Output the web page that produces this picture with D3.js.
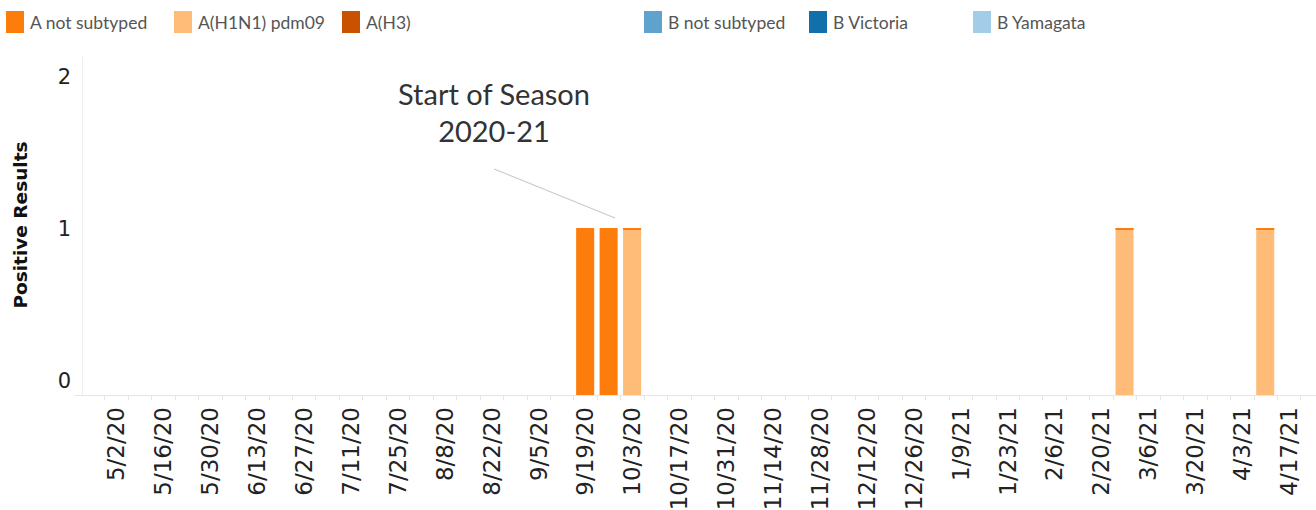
<!DOCTYPE html>
<html>
<head>
<meta charset="utf-8">
<script src="https://cdn.jsdelivr.net/npm/d3@7"></script>
<style>
  body { margin: 0; background: #fff; }
  svg { display: block; }
</style>
</head>
<body>
<svg width="1316" height="510"></svg>
<script>
// weeks (week ending), 4/25/20 .. 4/24/21
var weeks = ["4/25/20","5/2/20","5/9/20","5/16/20","5/23/20","5/30/20","6/6/20","6/13/20","6/20/20","6/27/20",
  "7/4/20","7/11/20","7/18/20","7/25/20","8/1/20","8/8/20","8/15/20","8/22/20","8/29/20","9/5/20",
  "9/12/20","9/19/20","9/26/20","10/3/20","10/10/20","10/17/20","10/24/20","10/31/20","11/7/20","11/14/20",
  "11/21/20","11/28/20","12/5/20","12/12/20","12/19/20","12/26/20","1/2/21","1/9/21","1/16/21","1/23/21",
  "1/30/21","2/6/21","2/13/21","2/20/21","2/27/21","3/6/21","3/13/21","3/20/21","3/27/21","4/3/21",
  "4/10/21","4/17/21","4/24/21"];

// labelled ticks on the x axis
var tickLabels = ["5/2/20","5/16/20","5/30/20","6/13/20","6/27/20","7/11/20","7/25/20","8/8/20","8/22/20","9/5/20",
  "9/19/20","10/3/20","10/17/20","10/31/20","11/14/20","11/28/20","12/12/20","12/26/20","1/9/21","1/23/21",
  "2/6/21","2/20/21","3/6/21","3/20/21","4/3/21","4/17/21"];

var seriesNames = ["A not subtyped", "A(H1N1) pdm09", "A(H3)", "B not subtyped", "B Victoria", "B Yamagata"];
var seriesColors = ["#fc7d0b", "#ffbc79", "#c85200", "#5fa2ce", "#1170aa", "#a3cce9"];

// positive results per week, one array per series (same order as weeks)
var aNotSubtyped = [0,0,0,0,0,0,0,0,0,0, 0,0,0,0,0,0,0,0,0,0, 0,1,1,0,0,0,0,0,0,0, 0,0,0,0,0,0,0,0,0,0, 0,0,0,0,0,0,0,0,0,0, 0,0,0];
var aH1N1 =        [0,0,0,0,0,0,0,0,0,0, 0,0,0,0,0,0,0,0,0,0, 0,0,0,1,0,0,0,0,0,0, 0,0,0,0,0,0,0,0,0,0, 0,0,0,0,1,0,0,0,0,0, 1,0,0];
var aH3 =          [0,0,0,0,0,0,0,0,0,0, 0,0,0,0,0,0,0,0,0,0, 0,0,0,0,0,0,0,0,0,0, 0,0,0,0,0,0,0,0,0,0, 0,0,0,0,0,0,0,0,0,0, 0,0,0];
var bNotSubtyped = [0,0,0,0,0,0,0,0,0,0, 0,0,0,0,0,0,0,0,0,0, 0,0,0,0,0,0,0,0,0,0, 0,0,0,0,0,0,0,0,0,0, 0,0,0,0,0,0,0,0,0,0, 0,0,0];
var bVictoria =    [0,0,0,0,0,0,0,0,0,0, 0,0,0,0,0,0,0,0,0,0, 0,0,0,0,0,0,0,0,0,0, 0,0,0,0,0,0,0,0,0,0, 0,0,0,0,0,0,0,0,0,0, 0,0,0];
var bYamagata =    [0,0,0,0,0,0,0,0,0,0, 0,0,0,0,0,0,0,0,0,0, 0,0,0,0,0,0,0,0,0,0, 0,0,0,0,0,0,0,0,0,0, 0,0,0,0,0,0,0,0,0,0, 0,0,0];

var yTicks = [0, 1, 2];
var seasonStart = "10/3/20";

var allSeries = [aNotSubtyped, aH1N1, aH3, bNotSubtyped, bVictoria, bYamagata];
var table = weeks.map(function (w, i) {
  var row = { week: w };
  seriesNames.forEach(function (n, k) { row[n] = allSeries[k][i]; });
  return row;
});

var svg = d3.select("svg");
var plotLeft = 81, plotBottom = 395, plotTop = 61;
var band = 23.45;

var x = d3.scaleBand()
  .domain(weeks)
  .range([plotLeft, plotLeft + weeks.length * band])
  .paddingInner(0.23)
  .paddingOuter(0.115);

var y = d3.scaleLinear().domain([0, 2]).range([plotBottom, plotTop]);

// axis lines
svg.append("line")
  .attr("x1", plotLeft + 1.5).attr("x2", plotLeft + 1.5)
  .attr("y1", 57).attr("y2", plotBottom)
  .attr("stroke", "#eeeeee").attr("stroke-width", 1);
svg.append("line")
  .attr("x1", 75).attr("x2", 1316)
  .attr("y1", plotBottom + 0.5).attr("y2", plotBottom + 0.5)
  .attr("stroke", "#e6e6e6").attr("stroke-width", 1);

// small ticks between weeks
function edge(d) { return Math.round(x(d) - x.step() * x.paddingInner() / 2) + 0.5; }
svg.append("g").selectAll("line")
  .data(weeks.slice(1))
  .enter().append("line")
  .attr("x1", edge).attr("x2", edge)
  .attr("y1", plotBottom).attr("y2", plotBottom + 5)
  .attr("stroke", "#e6e6e6");

// stacked bars
var stack = d3.stack().keys(seriesNames);
var layers = stack(table);

svg.append("g").selectAll("g")
  .data(layers)
  .enter().append("g")
  .attr("fill", function (d, i) { return seriesColors[i]; })
  .selectAll("rect")
  .data(function (d) { return d.filter(function (p) { return p[1] > p[0]; }); })
  .enter().append("rect")
  .attr("x", function (d) { return x(d.data.week); })
  .attr("width", x.bandwidth())
  .attr("y", function (d) { return y(d[1]); })
  .attr("height", function (d) { return y(d[0]) - y(d[1]); });

// thin orange edge on top of the H1N1 bars
svg.append("g").selectAll("rect")
  .data(table.filter(function (d) { return d["A(H1N1) pdm09"] > 0; }))
  .enter().append("rect")
  .attr("x", function (d) { return x(d.week); })
  .attr("width", x.bandwidth())
  .attr("y", function (d) { return y(d3.sum(seriesNames, function (n) { return d[n]; })); })
  .attr("height", 2)
  .attr("fill", "#fc7d0b");

// y axis labels
var yAxis = svg.append("g")
  .attr("transform", "translate(" + (plotLeft - 10) + ",0)")
  .call(d3.axisLeft(y).tickValues(yTicks).tickSize(0).tickPadding(0).tickFormat(d3.format("d")));
yAxis.select(".domain").remove();
yAxis.selectAll("text")
  .attr("font-family", "DejaVu Sans, sans-serif")
  .attr("font-size", 21)
  .attr("fill", "#222")
  .attr("dy", null)
  .attr("y", function (d) { return d === 0 ? -8 : d === 2 ? 22 : 7; });

svg.append("text")
  .attr("transform", "translate(27,225) rotate(-90)")
  .attr("text-anchor", "middle")
  .attr("font-family", "DejaVu Sans, sans-serif")
  .attr("font-weight", "bold")
  .attr("font-size", 18.5)
  .attr("fill", "#111")
  .text("Positive Results");

// x axis labels
var xAxis = svg.append("g")
  .attr("transform", "translate(0," + plotBottom + ")")
  .call(d3.axisBottom(x).tickValues(tickLabels).tickSize(0).tickPadding(0));
xAxis.select(".domain").remove();
xAxis.selectAll("text")
  .attr("font-family", "DejaVu Sans, sans-serif")
  .attr("font-size", 23)
  .attr("fill", "#222")
  .attr("text-anchor", "end")
  .attr("transform", "rotate(-90)")
  .attr("x", -12)
  .attr("y", 0)
  .attr("dy", "0.36em");

// annotation
var ax = x(seasonStart) + x.bandwidth() / 2 - 17;
svg.append("line")
  .attr("x1", 494).attr("y1", 169)
  .attr("x2", ax).attr("y2", y(1) - 10)
  .attr("stroke", "#cccccc").attr("stroke-width", 1.2);
var note = svg.append("text")
  .attr("text-anchor", "middle")
  .attr("font-family", "Lato, sans-serif")
  .attr("font-size", 29)
  .attr("fill", "#333");
note.append("tspan").attr("x", 494).attr("y", 105).text("Start of Season");
note.append("tspan").attr("x", 494).attr("y", 142).text("2020-21");

// legend
var legendX = [6, 174, 342, 644, 809, 973];
var legend = svg.append("g").selectAll("g")
  .data(seriesNames)
  .enter().append("g")
  .attr("transform", function (d, i) { return "translate(" + legendX[i] + ",11)"; });
legend.append("rect")
  .attr("width", 18).attr("height", 22)
  .attr("fill", function (d, i) { return seriesColors[i]; });
legend.append("text")
  .attr("x", 24).attr("y", 18)
  .attr("font-family", "Lato, sans-serif")
  .attr("font-size", 17.5)
  .attr("fill", "#555")
  .text(function (d) { return d; });
</script>
</body>
</html>
